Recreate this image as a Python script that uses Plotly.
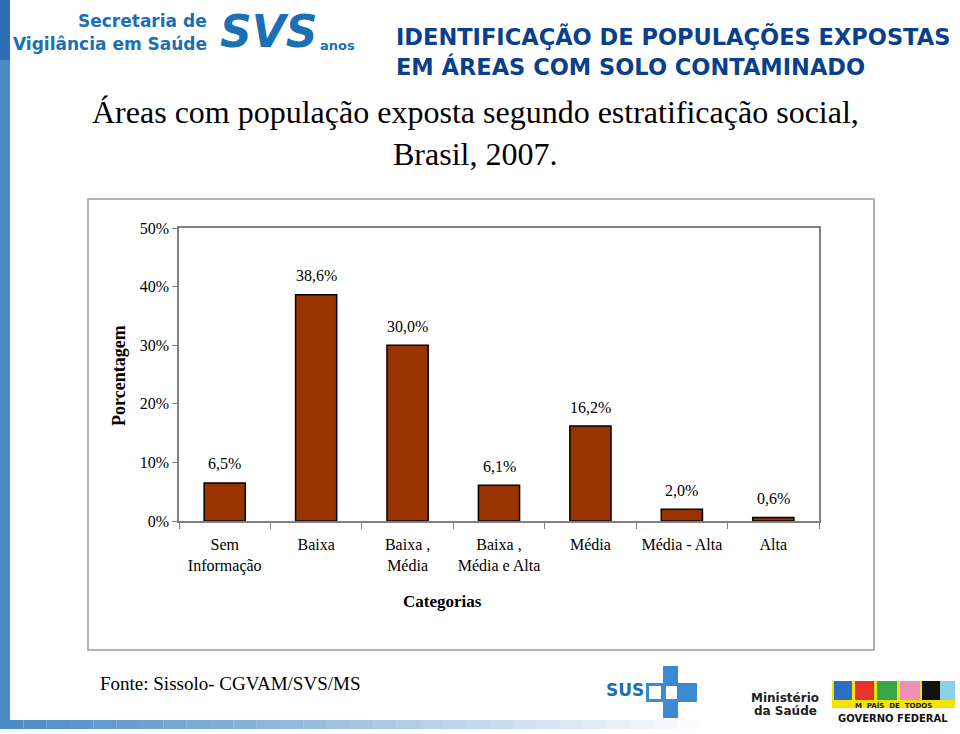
import plotly.graph_objects as go

categories = ["Sem<br>Informação", "Baixa", "Baixa ,<br>Média", "Baixa ,<br>Média e Alta",
              "Média", "Média - Alta", "Alta"]
values = [6.5, 38.6, 30.0, 6.1, 16.2, 2.0, 0.6]
value_labels = ["6,5%", "38,6%", "30,0%", "6,1%", "16,2%", "2,0%", "0,6%"]
y_ticks = [0, 10, 20, 30, 40, 50]
y_tick_labels = ["0%", "10%", "20%", "30%", "40%", "50%"]

W, H = 960, 734
L, R, T, B = 179, 819, 228, 521

def px(x):
    return (x - L) / (R - L)

def py(y):
    return (B - y) / (B - T)

SERIF = "Liberation Serif, Times New Roman, serif"
SANS = "DejaVu Sans, Verdana, sans-serif"

fig = go.Figure()
fig.add_trace(go.Bar(
    x=categories, y=values, width=0.45,
    marker=dict(color="#993300", line=dict(color="#000000", width=1.5)),
    hoverinfo="skip",
))

annotations = []
for c, v, t in zip(categories, values, value_labels):
    annotations.append(dict(x=c, y=v, xref="x", yref="y", text=t, showarrow=False,
                            yshift=19, font=dict(family=SERIF, size=16, color="#000")))

def txt(x, y, text, size, color="#000", family=SERIF, xanchor="center", yanchor="middle", **kw):
    annotations.append(dict(x=px(x), y=py(y), xref="paper", yref="paper", text=text,
                            showarrow=False, xanchor=xanchor, yanchor=yanchor,
                            font=dict(family=family, size=size, color=color), **kw))

# Axis titles
txt(119, 376, "<b>Porcentagem</b>", 18, textangle=-90)
txt(442, 601, "<b>Categorias</b>", 17)

# Chart title
txt(475, 112, "Áreas com população exposta segundo estratificação social,", 32)
txt(475, 154, "Brasil, 2007.", 32)

# Header
txt(394, 36, "<b>IDENTIFICAÇÃO DE POPULAÇÕES EXPOSTAS</b>", 22.5, color="#0a3f8c", family=SANS, xanchor="left")
txt(394, 66, "<b>EM ÁREAS COM SOLO CONTAMINADO</b>", 22.5, color="#0a3f8c", family=SANS, xanchor="left")

# SVS logo text
txt(209, 21, "<b>Secretaria de</b>", 17, color="#1b6fb5", family=SANS, xanchor="right")
txt(209, 44, "<b>Vigilância em Saúde</b>", 17, color="#1b6fb5", family=SANS, xanchor="right")
txt(218, 31, "<b><i>SVS</i></b>", 44, color="#1b6fb5", family=SANS, xanchor="left")
txt(318, 45, "<b>anos</b>", 13, color="#1b6fb5", family=SANS, xanchor="left")

# Source
txt(98, 683, "Fonte: Sissolo- CGVAM/SVS/MS", 19, xanchor="left")

# Bottom logos text
txt(625, 690, "<b>SUS</b>", 17, color="#1b6fb5", family=SANS)
txt(785, 698, "<b>Ministério</b>", 12, color="#222", family=SANS)
txt(785, 711, "<b>da Saúde</b>", 12, color="#222", family=SANS)
txt(893, 718, "<b>GOVERNO FEDERAL</b>", 10, color="#111", family=SANS)
txt(893, 705, "<b>M  PAÍS  DE  TODOS</b>", 7, color="#1a1a1a", family=SANS)

shapes = []

def rect(x0, y0, x1, y1, fill, line=None, lw=0, layer="below"):
    shapes.append(dict(type="rect", xref="paper", yref="paper",
                       x0=px(x0), x1=px(x1), y0=py(y1), y1=py(y0),
                       fillcolor=fill, line=dict(color=line or "rgba(0,0,0,0)", width=lw),
                       layer=layer))

# Outer chart frame
rect(88, 199, 874, 650, "rgba(0,0,0,0)", line="#9a9a9a", lw=1.5)

# Left blue strip
rect(0, 0, 10, 60, "#2d6fb3")
rect(0, 60, 10, 726, "#4a8cc6")
# Bottom gradient bar
n = 30
for i in range(n):
    x0 = i * 700 / n
    x1 = (i + 1) * 700 / n
    a = 1 - i / n
    rect(x0, 720, x1, 729, f"rgba(74,140,198,{a:.3f})")

# SUS cross
rect(663, 666, 678, 718, "#3b8ad3")
rect(646, 683, 697, 702, "#3b8ad3")
rect(649, 686, 661, 699, "#ffffff")
rect(666, 686, 677, 699, "#ffffff")

# BRASIL logo
rect(832, 681, 955, 702, "#f3e500")
rect(834, 681, 852, 700, "#2b6fc0")
rect(855, 681, 874, 700, "#e6332a")
rect(877, 681, 897, 700, "#3aa64a")
rect(900, 681, 920, 700, "#f08fb5")
rect(922, 681, 940, 700, "#111111")
rect(940, 681, 955, 700, "#8ad0e8")
rect(832, 700, 955, 708, "#f3e500")

fig.update_layout(
    width=W, height=H,
    margin=dict(l=L, r=W - R, t=T, b=H - B),
    paper_bgcolor="white", plot_bgcolor="white",
    showlegend=False,
    annotations=annotations,
    shapes=shapes,
    bargap=0.55,
)
fig.update_xaxes(
    showline=True, mirror=True, linecolor="#808080", linewidth=1.5,
    ticks="outside", tickson="boundaries", ticklen=6, tickcolor="#808080",
    tickfont=dict(family=SERIF, size=16, color="#000"),
    tickangle=0, ticklabelstandoff=8, showgrid=False,
)
fig.update_yaxes(
    range=[0, 50], tickvals=y_ticks, ticktext=y_tick_labels,
    showline=True, mirror=True, linecolor="#808080", linewidth=1.5,
    ticks="outside", ticklen=5, tickcolor="#808080",
    tickfont=dict(family=SERIF, size=16, color="#000"),
    showgrid=False, zeroline=False,
)

fig.write_html("out.html", config={"displayModeBar": False},
               post_script="document.body.style.margin='0';document.body.style.overflow='hidden';")
